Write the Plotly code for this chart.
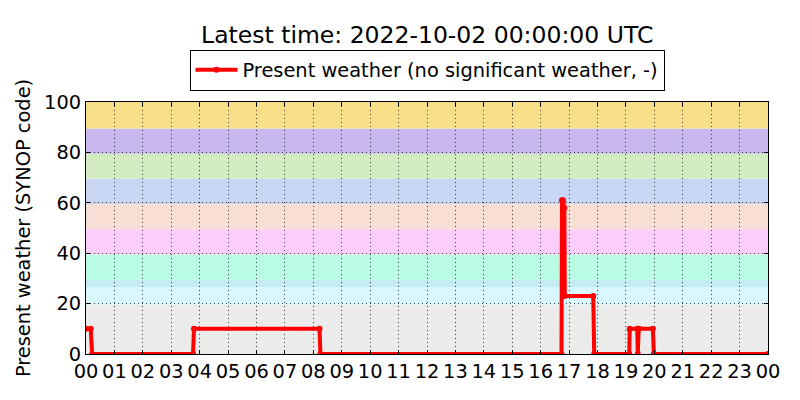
import plotly.graph_objects as go

day = "2022-10-01"
next_day = "2022-10-02"

times = ["00:00", "00:10", "00:13", "03:46", "03:48", "08:13", "08:15",
         "16:44", "16:45", "16:47", "16:50", "16:51", "17:51", "17:53",
         "19:07", "19:08", "19:24", "19:25", "19:27", "19:57", "19:59"]
codes = [10, 10, 0, 0, 10, 10, 0,
         0, 61, 61, 58, 23, 23, 0,
         0, 10, 10, 0, 10, 10, 0]

# background bands for SYNOP code groups
band_edges = [0, 19.5, 26.5, 29.5, 39.5, 49.5, 59.5, 69.5, 79.5, 89.5, 100]
band_colors = ["#ebebeb", "#d9f8fd", "#c4ecf4", "#b9fde4", "#fbcdfb",
               "#f7dfd6", "#c8d6f4", "#d2ebc0", "#c8b8ee", "#f7df8a"]

x = [day + " " + t for t in times] + [next_day + " 00:00"]
y = codes + [0]

fig = go.Figure()
fig.add_trace(go.Scatter(
    x=x, y=y, mode="lines+markers",
    name="Present weather (no significant weather, -)",
    line=dict(color="#ff0000", width=4),
    marker=dict(color="#ff0000", size=6),
))

for i in range(len(band_colors)):
    fig.add_shape(type="rect", xref="paper", yref="y",
                  x0=0, x1=1, y0=band_edges[i], y1=band_edges[i + 1],
                  fillcolor=band_colors[i], line_width=0, layer="below")

# the page puts the figure 8px in from the top-left, so margins are offset by 8
font = "DejaVu Sans, sans-serif"
fig.update_layout(
    width=800, height=400,
    margin=dict(l=78, r=40, t=94, b=54, autoexpand=False),
    paper_bgcolor="white", plot_bgcolor="white",
    font=dict(family=font, size=19.4, color="black"),
    title=dict(text="Latest time: 2022-10-02 00:00:00 UTC", x=0.524, xanchor="center",
               y=0.932, yanchor="middle", font=dict(size=23.5)),
    showlegend=True,
    legend=dict(orientation="h", x=0.5, xanchor="center", y=1.045, yanchor="bottom",
                bordercolor="black", borderwidth=1, bgcolor="white",
                itemwidth=42, font=dict(size=19.4)),
)
fig.update_xaxes(
    type="date", range=[day + " 00:00", next_day + " 00:00"],
    dtick=3600000, tickformat="%H", automargin=False,
    showline=True, linecolor="black", linewidth=1, mirror="ticks",
    ticks="inside", ticklen=4, tickcolor="black",
    showgrid=True, gridcolor="rgba(0,0,0,0.75)", griddash="1px,3px", gridwidth=1,
    zeroline=False,
)
fig.update_yaxes(
    range=[0, 100], dtick=20, automargin=False,
    title=dict(text="Present weather (SYNOP code)", standoff=8, font=dict(size=19.4)),
    showline=True, linecolor="black", linewidth=1, mirror="ticks",
    ticks="inside", ticklen=4, tickcolor="black",
    showgrid=True, gridcolor="rgba(0,0,0,0.75)", griddash="1px,3px", gridwidth=1,
    zeroline=False,
)

fig.write_html("out.html")
